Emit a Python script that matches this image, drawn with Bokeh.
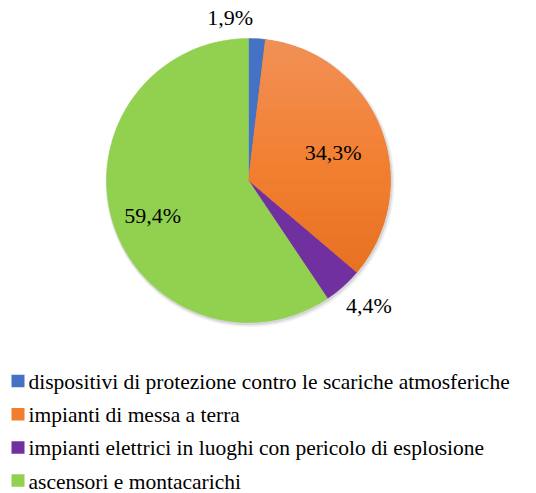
import numpy as np
from bokeh.plotting import figure
from bokeh.models import Range1d, ColumnDataSource
from bokeh.core.properties import value
from bokeh.embed import file_html
from bokeh.resources import INLINE

# ---- data ----
categories = [
    "dispositivi di protezione contro le scariche atmosferiche",
    "impianti di messa a terra",
    "impianti elettrici in luoghi con pericolo di esplosione",
    "ascensori e montacarichi",
]
shares = [1.9, 34.3, 4.4, 59.4]
pct_labels = ["1,9%", "34,3%", "4,4%", "59,4%"]
colors = ["#4472C4", "#F07F30", "#7030A0", "#92D050"]

# ---- style / layout ----
FONT = "'Liberation Serif', 'Times New Roman', serif"
W, H = 536, 493
cx, cy, R = 248.0, -180.0, 142.0
label_r = [1.15, 0.64, 1.22, 0.72]
label_dx = [-28, 0, 5, 2]
label_dy = [0, 5, -4, 5]
orange_stops = [(0.0, (241, 145, 87)), (0.45, (242, 127, 49)), (1.0, (227, 106, 28))]

p = figure(width=W, height=H, x_range=Range1d(0, W), y_range=Range1d(-H, 0),
           output_backend="svg", toolbar_location=None, min_border=0)
p.axis.visible = False
p.grid.visible = False
p.outline_line_color = None
p.background_fill_color = "white"
p.border_fill_color = "white"

frac = np.array(shares) / sum(shares)
cum = np.concatenate([[0.0], np.cumsum(frac)])
start = np.pi / 2 - 2 * np.pi * cum[:-1]
end = np.pi / 2 - 2 * np.pi * cum[1:]

# soft shadow
p.circle(x=[cx + 1.5], y=[cy - 2.0], radius=R + 2.5, fill_color="#000000", fill_alpha=0.06, line_color=None)
p.circle(x=[cx + 1.0], y=[cy - 1.5], radius=R + 1.2, fill_color="#000000", fill_alpha=0.10, line_color=None)

src = ColumnDataSource(dict(start=start, end=end, color=colors))
p.wedge(x=cx, y=cy, radius=R, start_angle="start", end_angle="end", direction="clock",
        fill_color="color", line_color="color", line_width=0.5, source=src)


# gradient on orange slice, drawn as horizontal bands of the wedge polygon
def clip(poly, yv, keep_above):
    out = []
    n = len(poly)
    for i in range(n):
        a, b = poly[i], poly[(i + 1) % n]
        ina = a[1] >= yv if keep_above else a[1] <= yv
        inb = b[1] >= yv if keep_above else b[1] <= yv
        if ina:
            out.append(a)
        if ina != inb:
            t = (yv - a[1]) / (b[1] - a[1])
            out.append((a[0] + t * (b[0] - a[0]), yv))
    return out


def grad_color(t):
    for (t0, c0), (t1, c1) in zip(orange_stops[:-1], orange_stops[1:]):
        if t <= t1:
            u = (t - t0) / (t1 - t0)
            c = [int(round(c0[k] + u * (c1[k] - c0[k]))) for k in range(3)]
            return "#%02x%02x%02x" % tuple(c)
    return "#%02x%02x%02x" % orange_stops[-1][1]


k = 1
angs = np.linspace(start[k], end[k], 200)
poly = [(cx, cy)] + [(cx + R * np.cos(a), cy + R * np.sin(a)) for a in angs]
nb = 70
edges = np.linspace(cy + R, cy - R, nb + 1)
xs, ys, cs = [], [], []
for i in range(nb):
    top, bot = edges[i] + 0.6, edges[i + 1] - 0.6
    pc = clip(clip(poly, top, False), bot, True)
    if len(pc) >= 3:
        xs.append([q[0] for q in pc])
        ys.append([q[1] for q in pc])
        cs.append(grad_color((i + 0.5) / nb))
p.patches(xs=xs, ys=ys, fill_color=cs, line_color=None)

# percentage labels
mid = (start + end) / 2
lx = cx + R * np.array(label_r) * np.cos(mid)
ly = cy + R * np.array(label_r) * np.sin(mid)
lsrc = ColumnDataSource(dict(x=lx, y=ly, t=pct_labels, dx=label_dx, dy=label_dy))
p.text(x="x", y="y", text="t", x_offset="dx", y_offset="dy", source=lsrc,
       text_font=value(FONT), text_font_size="22px", text_color="#000000",
       text_align="center", text_baseline="middle")

# legend
leg_top, leg_step = -380.5, 33.2
leg_y = [leg_top - i * leg_step for i in range(len(categories))]
leg_colors = list(colors)
leg_colors[1] = grad_color(0.5)
gsrc = ColumnDataSource(dict(y=leg_y, c=leg_colors, t=categories))
p.rect(x=17.5, y="y", width=13, height=12.5, fill_color="c", line_color=None, source=gsrc)
p.text(x=28, y="y", text="t", source=gsrc, y_offset=1,
       text_font=value(FONT), text_font_size="21.5px", text_color="#000000",
       text_align="left", text_baseline="middle")

open("out.html", "w").write(file_html(p, INLINE))
